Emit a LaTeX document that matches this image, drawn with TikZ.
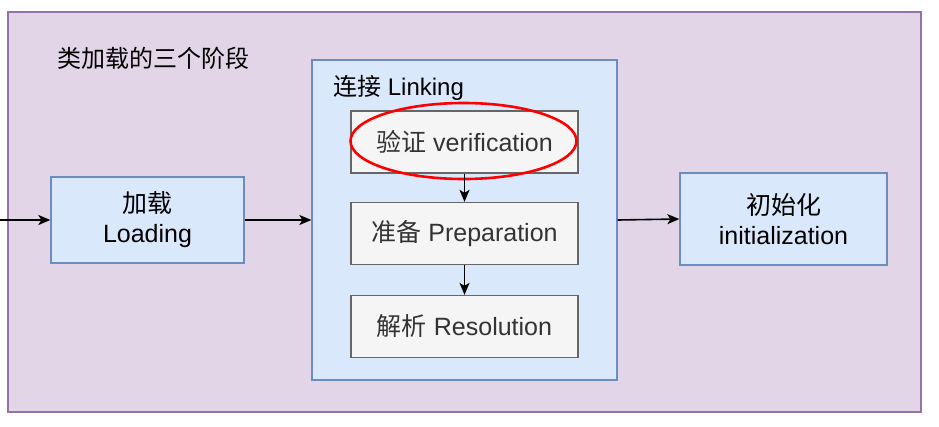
\documentclass[tikz,border=0pt]{standalone}
\usepackage{fontspec}
\setmainfont{Liberation Sans}
\newfontfamily\cjk{Noto Sans CJK SC}
\usetikzlibrary{arrows.meta,shapes.geometric}
\definecolor{purfill}{HTML}{E1D5E7}
\definecolor{purline}{HTML}{9673A6}
\definecolor{bluefill}{HTML}{DAE8FC}
\definecolor{blueline}{HTML}{6C8EBF}
\definecolor{greyfill}{HTML}{F5F5F5}
\definecolor{greyline}{HTML}{666666}
\definecolor{greytext}{HTML}{333333}
\begin{document}
\begin{tikzpicture}[x=1pt,y=-1pt,
  bluebox/.style={draw=blueline, fill=bluefill, line width=1.3pt, inner sep=0pt, align=center, font=\fontsize{25}{30}\selectfont},
  greybox/.style={draw=greyline, fill=greyfill, line width=1.3pt, inner sep=0pt, text=greytext, minimum width=227pt, minimum height=62pt, font=\fontsize{25}{30}\selectfont},
  lbl/.style={inner sep=0pt, anchor=west, font=\fontsize{24}{28}\selectfont},
  arr/.style={line width=1.6pt, -{Stealth[length=12pt,width=10pt,inset=3pt]}}
]
\useasboundingbox (0,0) rectangle (939,426);
\node[draw=purline, fill=purfill, line width=1.3pt, minimum width=913pt, minimum height=400pt, inner sep=0pt] (outer) at (464.5,212) {};
\node[lbl] (title) at (57,58) {{\cjk 类加载的三个阶段}};
\node[bluebox, minimum width=193pt, minimum height=86pt] (load) at (147.5,220) {{\cjk 加载}\\Loading};
\node[draw=blueline, fill=bluefill, line width=1.3pt, minimum width=305pt, minimum height=320pt, inner sep=0pt] (link) at (464.5,220) {};
\node[lbl] (linklbl) at (333,88) {{\cjk 连接} Linking};
\node[greybox] (ver) at (464.5,142) {{\cjk 验证} verification};
\node[greybox] (prep) at (464.5,233.5) {{\cjk 准备} Preparation};
\node[greybox] (res) at (464.5,326.5) {{\cjk 解析} Resolution};
\node[draw=red, line width=2.6pt, ellipse, minimum width=226pt, minimum height=76pt, inner sep=0pt] (ell) at (463.5,141) {};
\node[bluebox, minimum width=207pt, minimum height=92pt] (init) at (783.5,219) {{\cjk 初始化}\\initialization};
\coordinate (start) at (0,220);
\draw[arr] (start) -- (load.west);
\draw[arr] (load.east) -- (link.west);
\draw[arr] (link.east) -- (init.west);
\draw[arr] (ver.south) -- (prep.north);
\draw[arr] (prep.south) -- (res.north);
\end{tikzpicture}
\end{document}
